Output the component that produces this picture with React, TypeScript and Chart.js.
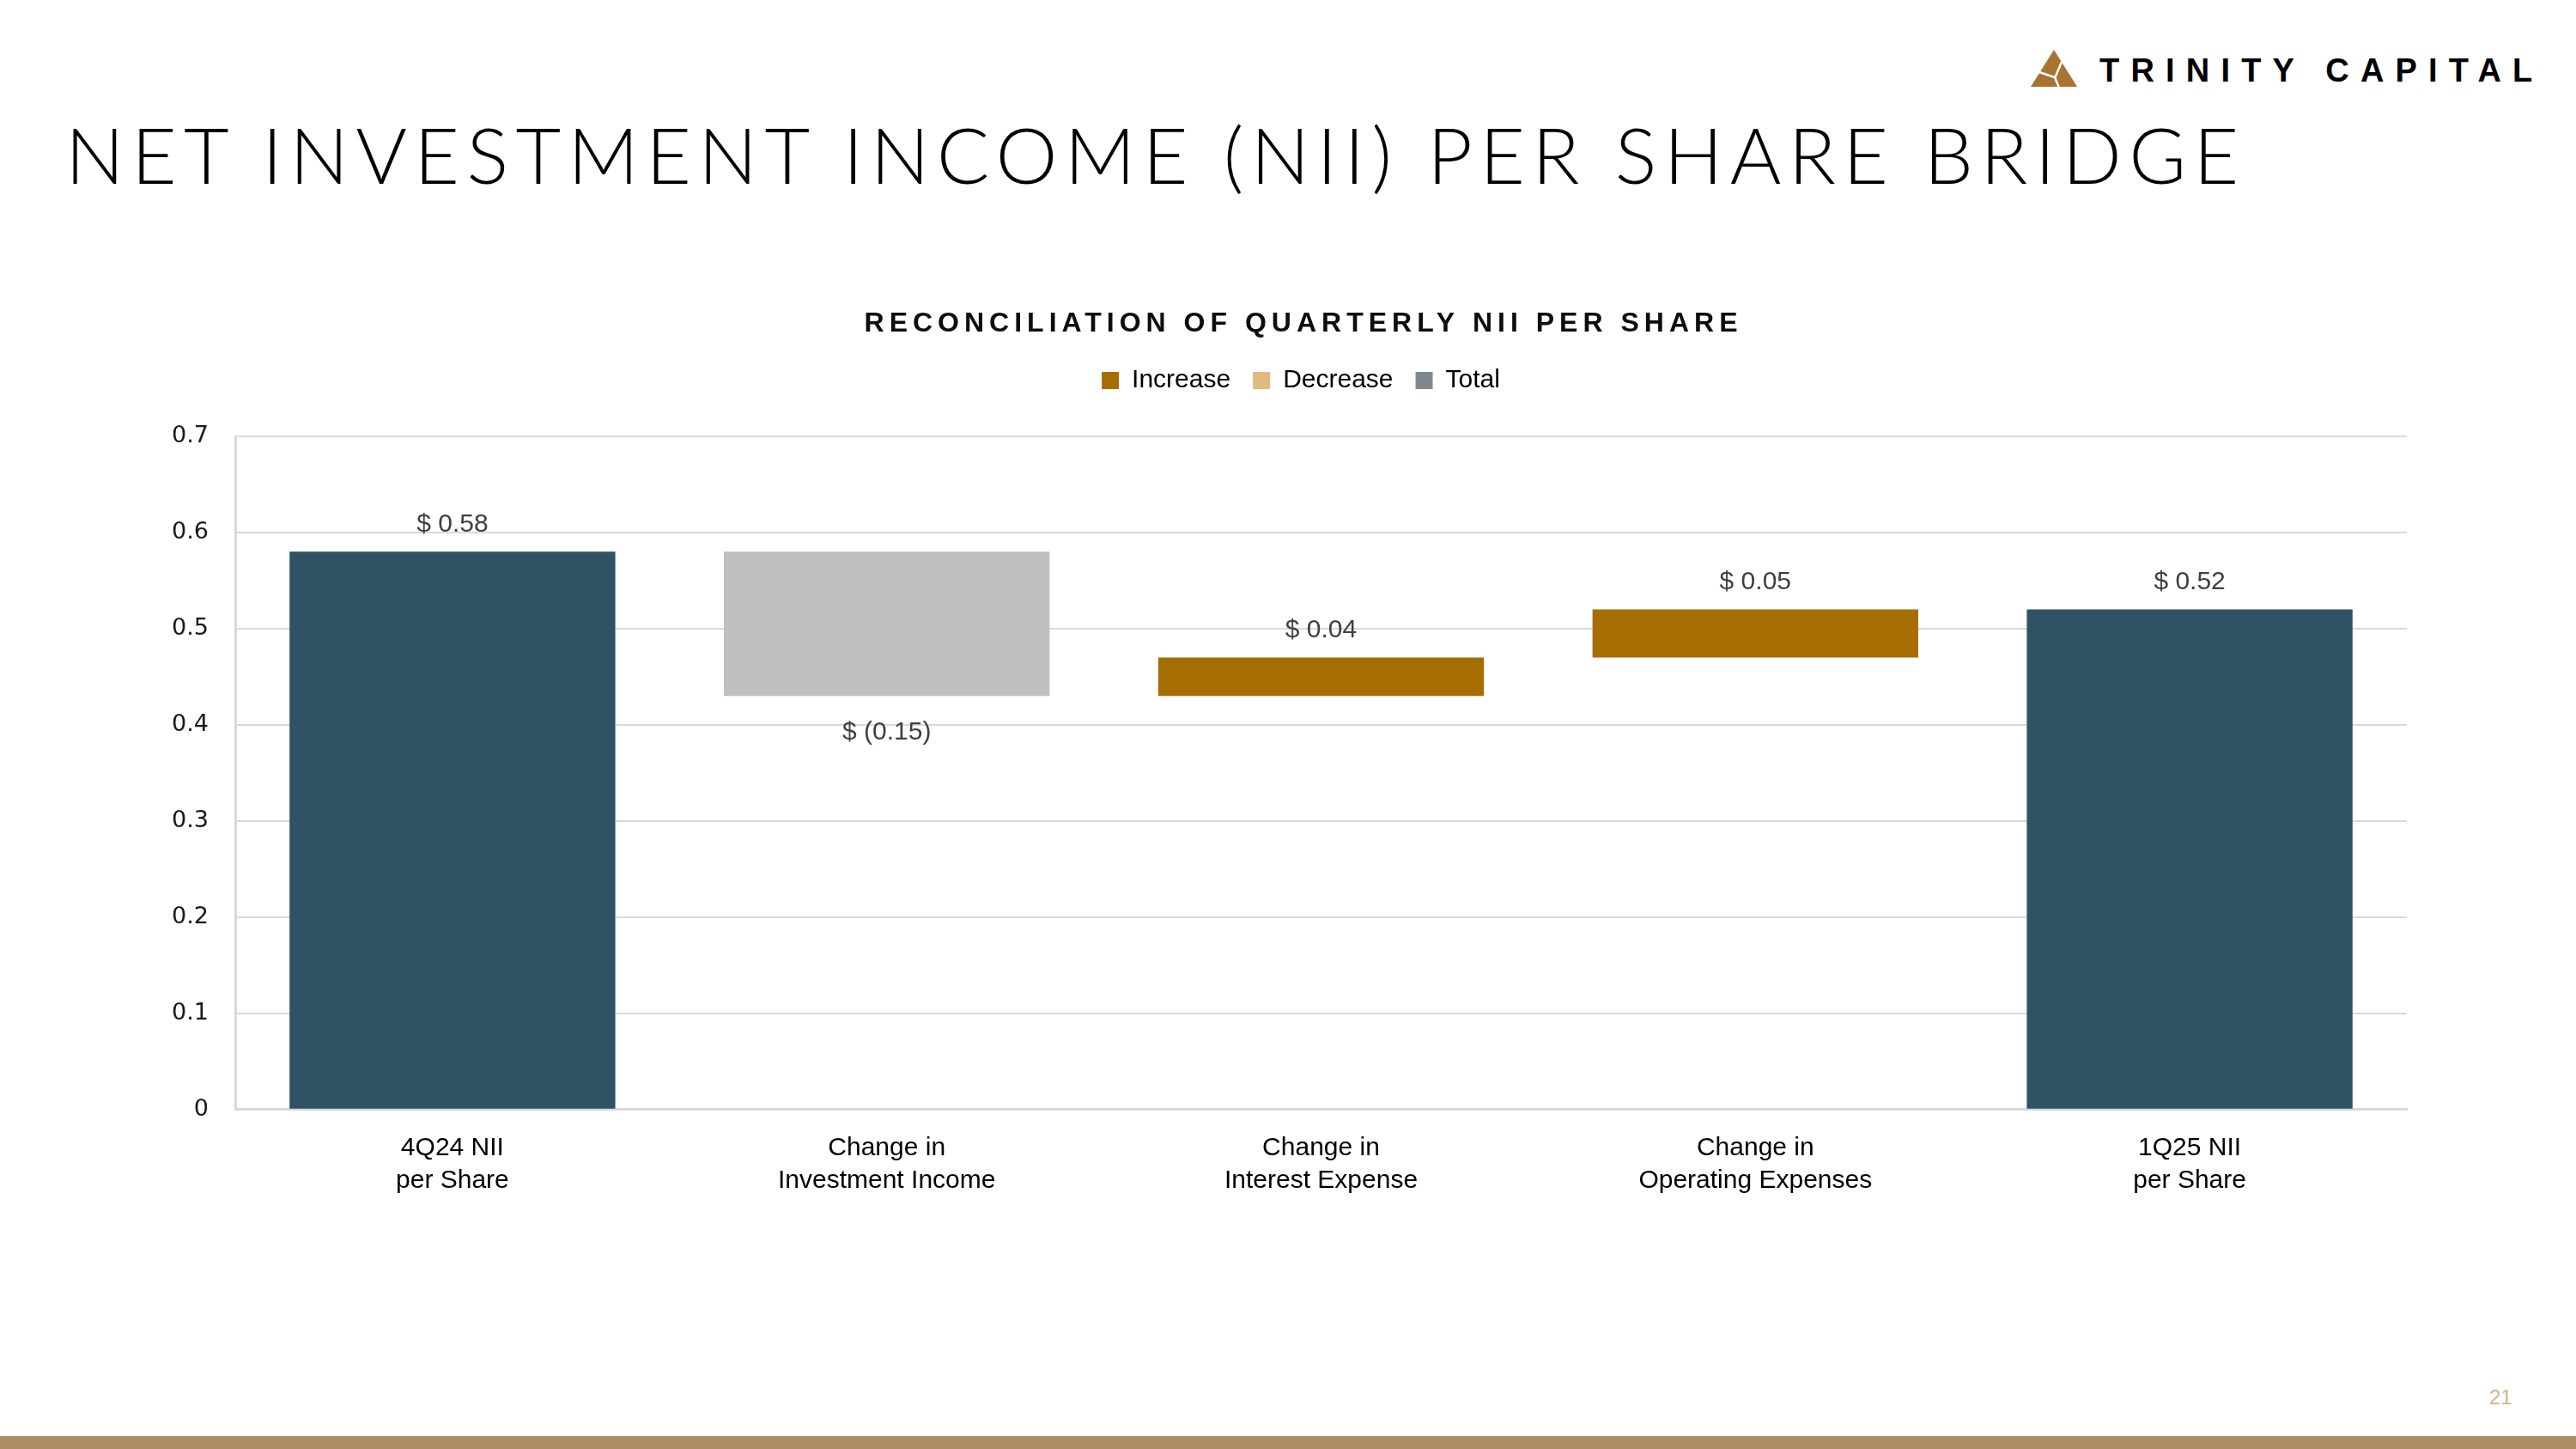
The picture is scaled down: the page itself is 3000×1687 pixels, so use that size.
import React, { useEffect, useRef } from 'react';
import { Chart, registerables } from 'chart.js';

Chart.register(...registerables);

// ---------- data ----------
const categories: string[][] = [
  ['4Q24 NII', 'per Share'],
  ['Change in', 'Investment Income'],
  ['Change in', 'Interest Expense'],
  ['Change in', 'Operating Expenses'],
  ['1Q25 NII', 'per Share'],
];
const stepValues: number[] = [0.58, -0.15, 0.04, 0.05, 0.52];
const stepKinds: string[] = ['total', 'decrease', 'increase', 'increase', 'total'];
const legendNames: string[] = ['Increase', 'Decrease', 'Total'];
const legendColors: string[] = ['#A66D00', '#E2B97F', '#7F8890'];
const yTickValues: number[] = [0, 0.1, 0.2, 0.3, 0.4, 0.5, 0.6, 0.7];
const yTickLabels: string[] = ['0', '0.1', '0.2', '0.3', '0.4', '0.5', '0.6', '0.7'];

const CHART_TITLE = 'RECONCILIATION OF QUARTERLY NII PER SHARE';
const PAGE_TITLE = 'NET INVESTMENT INCOME (NII) PER SHARE BRIDGE';

const barColors: Record<string, string> = {
  total: '#2D5364',
  decrease: '#BFBFBF',
  increase: '#A66D00',
};

const r2 = (v: number) => Math.round(v * 100) / 100;

// floating ranges from the running total
const ranges: [number, number][] = (() => {
  let run = 0;
  return stepValues.map((v, i) => {
    if (stepKinds[i] === 'total') {
      run = v;
      return [0, v] as [number, number];
    }
    const start = run;
    run = r2(run + v);
    return [r2(start), run] as [number, number];
  });
})();

const seriesFor = (kind: string) => ranges.map((r, i) => (stepKinds[i] === kind ? r : null));

const fmtLabel = (v: number) => (v < 0 ? `$ (${Math.abs(v).toFixed(2)})` : `$ ${v.toFixed(2)}`);

// ---------- plugins ----------
const chartTitlePlugin = {
  id: 'chartTitleSpaced',
  afterDraw(chart: any) {
    const ctx = chart.ctx;
    ctx.save();
    ctx.font = 'bold 32px "Liberation Sans", Arial, sans-serif';
    (ctx as any).letterSpacing = '6px';
    ctx.fillStyle = '#0D0D0D';
    ctx.textAlign = 'center';
    ctx.textBaseline = 'alphabetic';
    ctx.fillText(CHART_TITLE, chart.width / 2 + 3, 86);
    ctx.restore();
  },
};

const legendGapPlugin = {
  id: 'legendGap',
  beforeUpdate(chart: any) {
    const legend = chart.legend;
    if (!legend || legend._gapPatched) return;
    legend._gapPatched = true;
    const origFit = legend.fit;
    legend.fit = function () {
      origFit.call(this);
      this.height += 40;
    };
  },
};

const dataLabelPlugin = {
  id: 'waterfallLabels',
  afterDatasetsDraw(chart: any) {
    const ctx = chart.ctx;
    const xs = chart.scales.x;
    const ys = chart.scales.y;
    ctx.save();
    ctx.font = '30px "Liberation Sans", Arial, sans-serif';
    ctx.fillStyle = '#404040';
    ctx.textAlign = 'center';
    ctx.textBaseline = 'middle';
    ranges.forEach((r, i) => {
      const x = xs.getPixelForValue(i);
      const top = ys.getPixelForValue(Math.max(r[0], r[1]));
      const bottom = ys.getPixelForValue(Math.min(r[0], r[1]));
      const y = stepKinds[i] === 'decrease' ? bottom + 42 : top - 32;
      ctx.fillText(fmtLabel(stepValues[i]), x, y);
    });
    ctx.restore();
  },
};

// ---------- chart ----------
function WaterfallChart() {
  const ref = useRef<HTMLCanvasElement | null>(null);
  useEffect(() => {
    if (!ref.current) return;
    const common = { grouped: false, barPercentage: 0.75, categoryPercentage: 1, borderWidth: 0 };
    const chart = new Chart(ref.current, {
      type: 'bar',
      data: {
        labels: categories as any,
        datasets: [
          { label: 'Total', data: seriesFor('total') as any, backgroundColor: barColors.total, ...common },
          { label: 'Decrease', data: seriesFor('decrease') as any, backgroundColor: barColors.decrease, ...common },
          { label: 'Increase', data: seriesFor('increase') as any, backgroundColor: barColors.increase, ...common },
        ],
      },
      options: {
        responsive: false,
        animation: false,
        devicePixelRatio: 1,
        layout: { padding: { left: 35, right: 35, top: 102, bottom: 15 } },
        plugins: {
          title: { display: false },
          tooltip: { enabled: false },
          legend: {
            display: true,
            position: 'top',
            align: 'center',
            labels: {
              boxWidth: 20,
              boxHeight: 20,
              padding: 26,
              color: '#1F1F1F',
              font: { family: '"Liberation Sans", Arial, sans-serif', size: 30 },
              generateLabels: () =>
                legendNames.map((n, i) => ({
                  text: n,
                  fillStyle: legendColors[i],
                  strokeStyle: legendColors[i],
                  lineWidth: 0,
                  hidden: false,
                  datasetIndex: i,
                })),
            },
          },
        },
        scales: {
          x: {
            type: 'category',
            offset: true,
            grid: { display: false, drawTicks: false },
            border: { display: true, color: '#D9D9D9', width: 3 },
            ticks: {
              color: '#000000',
              padding: 26,
              maxRotation: 0,
              autoSkip: false,
              font: { family: '"Liberation Sans", Arial, sans-serif', size: 30, lineHeight: 1.27 },
            },
          },
          y: {
            position: 'left',
            min: 0,
            max: 0.7,
            afterFit: (scale: any) => {
              scale.width = 79;
            },
            afterBuildTicks: (scale: any) => {
              scale.ticks = yTickValues.map((v) => ({ value: v }));
            },
            grid: { color: '#D9D9D9', lineWidth: 2, drawTicks: false },
            border: { display: true, color: '#D9D9D9', width: 3 },
            ticks: {
              color: '#1A1A1A',
              padding: 31,
              font: { family: '"DejaVu Sans", sans-serif', size: 27 },
              callback: (v: any) => {
                const idx = yTickValues.findIndex((t) => Math.abs(t - Number(v)) < 1e-9);
                return idx >= 0 ? yTickLabels[idx] : '';
              },
            },
          },
          yRight: {
            axis: 'y',
            type: 'linear',
            position: 'right',
            display: true,
            min: 0,
            max: 0.7,
            afterFit: (scale: any) => {
              scale.width = 32;
            },
            grid: { display: false, drawOnChartArea: false, drawTicks: false },
            border: { display: false },
            ticks: { display: false },
          },
        },
      },
      plugins: [chartTitlePlugin, legendGapPlugin, dataLabelPlugin],
    } as any);
    return () => chart.destroy();
  }, []);
  return (
    <canvas
      ref={ref}
      width={2710}
      height={1135}
      style={{ position: 'absolute', left: 160, top: 300, width: 2710, height: 1135 }}
    />
  );
}

function Logo() {
  return (
    <>
      <svg
        width={64}
        height={50}
        viewBox="0 0 64 50"
        style={{ position: 'absolute', left: 2360, top: 55 }}
      >
        <polygon points="5,46 32,3 59,46" fill="#A8732F" />
        <line x1={15} y1={29} x2={33} y2={35} stroke="#FFFFFF" strokeWidth={2.5} />
        <line x1={41} y1={17} x2={33} y2={36} stroke="#FFFFFF" strokeWidth={2.5} />
        <line x1={33} y1={35} x2={38} y2={47} stroke="#FFFFFF" strokeWidth={2.5} />
      </svg>
      <div
        style={{
          position: 'absolute',
          left: 2445,
          top: 63,
          fontFamily: '"Liberation Sans", Arial, sans-serif',
          fontWeight: 700,
          fontSize: 38,
          lineHeight: '38px',
          letterSpacing: '13.2px',
          color: '#000000',
          whiteSpace: 'nowrap',
        }}
      >
        TRINITY CAPITAL
      </div>
    </>
  );
}

export default function App() {
  return (
    <div
      style={{
        position: 'fixed',
        left: 0,
        top: 0,
        width: 3000,
        height: 1687,
        background: '#FFFFFF',
        overflow: 'hidden',
      }}
    >
      <Logo />
      <div
        style={{
          position: 'absolute',
          left: 76,
          top: 133,
          fontFamily: 'Lato, "Open Sans", sans-serif',
          fontWeight: 300,
          fontSize: 91,
          lineHeight: '91px',
          letterSpacing: '8.3px',
          color: '#000000',
          whiteSpace: 'nowrap',
        }}
      >
        {PAGE_TITLE}
      </div>
      <WaterfallChart />
      <div
        style={{
          position: 'absolute',
          left: 2899,
          top: 1615,
          fontFamily: '"Liberation Sans", Arial, sans-serif',
          fontSize: 24,
          lineHeight: '24px',
          color: '#D2B48C',
        }}
      >
        21
      </div>
      <div
        style={{
          position: 'absolute',
          left: 0,
          top: 1672,
          width: 3000,
          height: 15,
          background: '#AD8D62',
        }}
      />
    </div>
  );
}
